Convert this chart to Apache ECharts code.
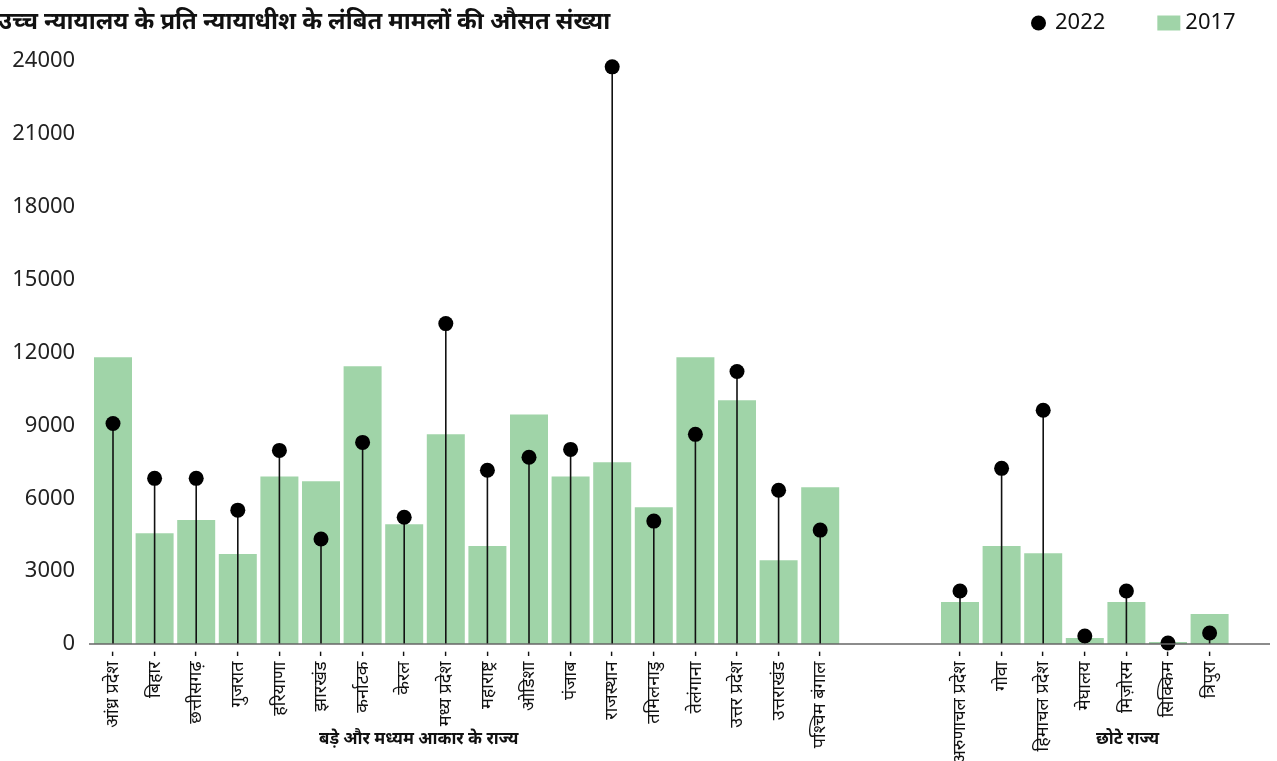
<!DOCTYPE html>
<html>
<head>
<meta charset="utf-8">
<script src="https://cdn.jsdelivr.net/npm/echarts@6/dist/echarts.min.js"></script>
<style>
html,body{margin:0;padding:0;background:#fff;}
#chart{width:1277px;height:761px;}
</style>
</head>
<body>
<div id="chart"></div>
<script>
const titleText = 'उच्च न्यायालय के प्रति न्यायाधीश के लंबित मामलों की औसत संख्या';
const bigStates = ['आंध्र प्रदेश','बिहार','छत्तीसगढ़','गुजरात','हरियाणा','झारखंड','कर्नाटक','केरल','मध्य प्रदेश','महाराष्ट्र','ओडिशा','पंजाब','राजस्थान','तमिलनाडु','तेलंगाना','उत्तर प्रदेश','उत्तराखंड','पश्चिम बंगाल'];
const smallStates = ['अरुणाचल प्रदेश','गोवा','हिमाचल प्रदेश','मेघालय','मिज़ोरम','सिक्किम','त्रिपुरा'];
const big2017 = [11800, 4560, 5100, 3700, 6900, 6700, 11430, 4930, 8630, 4030, 9450, 6900, 7480, 5630, 11800, 10030, 3450, 6450];
const big2022 = [9080, 6820, 6820, 5510, 7970, 4320, 8300, 5220, 13190, 7150, 7690, 8010, 23760, 5060, 8630, 11220, 6330, 4690];
const small2017 = [1730, 4030, 3740, 250, 1730, 80, 1230];
const small2022 = [2180, 7230, 9620, 330, 2180, 40, 450];
const yTicks = [0, 3000, 6000, 9000, 12000, 15000, 18000, 21000, 24000];
const groupLabels = ['बड़े और मध्यम आकार के राज्य', 'छोटे राज्य'];

const GREEN = '#a0d4a8';
const FONT = '"Noto Sans", "Open Sans", sans-serif';
const BAND = 41.6;

const chart = echarts.init(document.getElementById('chart'));

function stemItem(params, api) {
  const x = api.value(0), v = api.value(1);
  const p0 = api.coord([x, 0]);
  const p1 = api.coord([x, v]);
  return {type: 'line', shape: {x1: p0[0], y1: p0[1], x2: p1[0], y2: p1[1]},
          style: {stroke: '#111', lineWidth: 1.6}};
}

const xAxisCommon = {
  type: 'category',
  axisLine: {show: false},
  axisTick: {show: false},
  axisLabel: {rotate: 90, fontSize: 18, color: '#111', fontFamily: FONT, margin: 7, interval: 0,
              formatter: s => s + ' -'}
};
const yAxisCommon = {
  type: 'value', min: yTicks[0], max: yTicks[yTicks.length - 1], interval: 3000,
  splitLine: {show: false}, axisLine: {show: false}, axisTick: {show: false}
};

chart.setOption({
  animation: false,
  title: {text: titleText, left: -7, top: 5,
          textStyle: {fontSize: 23.8, fontWeight: 'bold', color: '#111', fontFamily: FONT}},
  legend: {
    left: 1026, top: 7, itemWidth: 23, itemHeight: 15, itemGap: 52,
    textStyle: {fontSize: 22, color: '#111', fontFamily: FONT},
    data: [{name: '2022', icon: 'circle', itemStyle: {color: '#000'}}, {name: '2017', icon: 'rect', itemStyle: {color: GREEN}}]
  },
  grid: [
    {left: 113 - BAND / 2, width: BAND * bigStates.length, top: 61, bottom: 117, outerBoundsMode: 'none', containLabel: false},
    {left: 960 - BAND / 2, width: BAND * smallStates.length, top: 61, bottom: 117, outerBoundsMode: 'none', containLabel: false}
  ],
  xAxis: [
    Object.assign({gridIndex: 0, data: bigStates}, xAxisCommon),
    Object.assign({gridIndex: 1, data: smallStates}, xAxisCommon)
  ],
  yAxis: [
    Object.assign({gridIndex: 0, axisLabel: {fontSize: 22, color: '#222', fontFamily: FONT, margin: 17, formatter: v => String(v)}}, yAxisCommon),
    Object.assign({gridIndex: 1, axisLabel: {show: false}}, yAxisCommon)
  ],
  graphic: [
    {type: 'line', shape: {x1: 89, y1: 644, x2: 1270, y2: 644}, style: {stroke: '#666', lineWidth: 1.5}, z: 10},
    {type: 'text', left: 319, top: 731, style: {text: groupLabels[0], fill: '#111', font: 'bold 16.8px ' + FONT}},
    {type: 'text', left: 1096, top: 731, style: {text: groupLabels[1], fill: '#111', font: 'bold 16.8px ' + FONT}}
  ],
  series: [
    {name: '2017', type: 'bar', xAxisIndex: 0, yAxisIndex: 0, data: big2017, barWidth: 38, itemStyle: {color: GREEN}, z: 1},
    {name: '2017', type: 'bar', xAxisIndex: 1, yAxisIndex: 1, data: small2017, barWidth: 38, itemStyle: {color: GREEN}, z: 1},
    {name: '2022', type: 'custom', xAxisIndex: 0, yAxisIndex: 0, renderItem: stemItem, itemStyle: {color: '#000'}, data: big2022.map((v, i) => [i, v]), z: 3, silent: true},
    {name: '2022', type: 'custom', xAxisIndex: 1, yAxisIndex: 1, renderItem: stemItem, itemStyle: {color: '#000'}, data: small2022.map((v, i) => [i, v]), z: 3, silent: true},
    {name: '2022', type: 'scatter', xAxisIndex: 0, yAxisIndex: 0, data: big2022, symbolSize: 15, itemStyle: {color: '#000', opacity: 1}, z: 5},
    {name: '2022', type: 'scatter', xAxisIndex: 1, yAxisIndex: 1, data: small2022, symbolSize: 15, itemStyle: {color: '#000', opacity: 1}, z: 5}
  ]
});
</script>
</body>
</html>
